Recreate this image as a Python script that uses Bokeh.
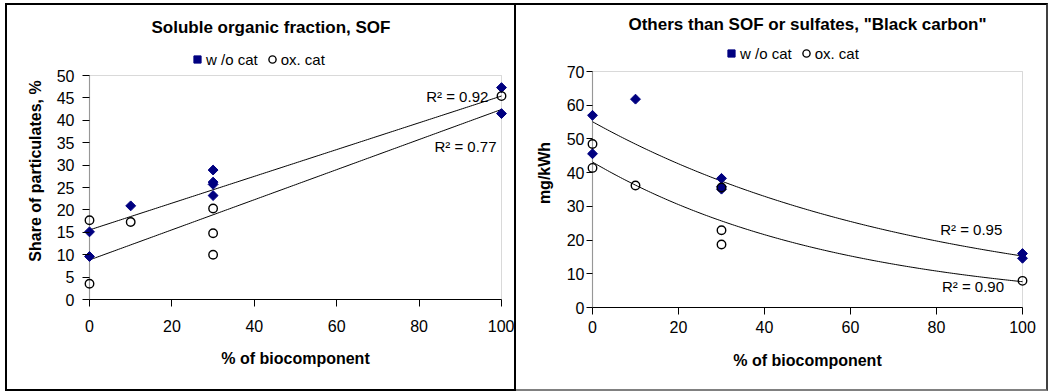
import numpy as np
from bokeh.plotting import figure
from bokeh.models import Legend, LegendItem, Label, Range1d, FixedTicker, BoxAnnotation, Spacer
from bokeh.layouts import row, column
from bokeh.embed import file_html
from bokeh.resources import INLINE

# ---------------- data ----------------
# Left chart: Soluble organic fraction (share of particulates, %)
sof_wo_x = [0, 0, 10, 30, 30, 30, 30, 100, 100]
sof_wo_y = [15.1, 9.6, 20.9, 28.9, 26.2, 25.7, 23.2, 47.3, 41.5]
sof_ox_x = [0, 0, 10, 30, 30, 30, 100]
sof_ox_y = [17.7, 3.5, 17.3, 20.3, 14.8, 10.0, 45.4]
sof_r2 = ["R² = 0.92", "R² = 0.77"]

# Right chart: Black carbon (mg/kWh)
bc_wo_x = [0, 0, 10, 30, 30, 30, 100, 100]
bc_wo_y = [57.0, 45.6, 61.8, 38.3, 35.8, 35.1, 16.0, 14.6]
bc_ox_x = [0, 0, 10, 30, 30, 30, 100]
bc_ox_y = [48.5, 41.4, 36.2, 35.6, 22.9, 18.7, 7.9]
bc_r2 = ["R² = 0.95", "R² = 0.90"]

x_ticks = [0, 20, 40, 60, 80, 100]
sof_y_ticks = [0, 5, 10, 15, 20, 25, 30, 35, 40, 45, 50]
bc_y_ticks = [0, 10, 20, 30, 40, 50, 60, 70]

series_names = ["w /o cat", "ox. cat"]
titles = ["Soluble organic fraction, SOF", 'Others than SOF or sulfates, "Black carbon"']
x_label = "% of biocomponent"
y_labels = ["Share of particulates, %", "mg/kWh"]

FONT = "Liberation Sans"
NAVY = "#000080"
PAD_PX = 6  # room so that edge markers are not clipped


def linear_fit(xs, ys, grid):
    k, b = np.polyfit(np.array(xs, float), np.array(ys, float), 1)
    return k * grid + b


def expo_fit(xs, ys, grid):
    k, b = np.polyfit(np.array(xs, float), np.log(np.array(ys, float)), 1)
    return np.exp(b) * np.exp(k * grid)


def make_fig(cfg):
    # frame is taller than the axis so that the legend sits inside it,
    # and slightly wider so that markers at 0 and 100 are drawn whole
    ext = cfg["frame_h"] / cfg["axis_h"]
    pad = 100.0 * PAD_PX / cfg["axis_w"]
    p = figure(width=cfg["w"], height=cfg["h"],
               min_border_left=cfg["bl"], min_border_right=cfg["br"],
               min_border_top=cfg["bt"], min_border_bottom=cfg["bb"],
               x_range=Range1d(-pad, 100 + pad),
               y_range=Range1d(0, cfg["ymax"] * ext),
               output_backend="svg", toolbar_location=None)
    p.grid.visible = False
    p.outline_line_color = None
    p.background_fill_color = "white"
    p.border_fill_color = "white"
    # plot-area border (grey) and the value axis line at x = 0 (black)
    p.add_layout(BoxAnnotation(left=0, right=100, bottom=0, top=cfg["ymax"],
                               fill_alpha=0, line_color="#808080", line_width=1,
                               level="underlay"))
    p.add_layout(BoxAnnotation(left=0, right=0, bottom=0, top=cfg["ymax"],
                               fill_alpha=0, line_color="black", line_width=1.2,
                               level="underlay"))

    p.title.text = cfg["title"]
    p.title.align = cfg["talign"]
    p.title.offset = cfg["toffset"]
    p.title.standoff = cfg["tstand"]
    p.title.text_font = FONT
    p.title.text_font_size = "17px"
    p.title.text_font_style = "bold"
    p.title.text_color = "black"

    for ax in (p.xaxis[0], p.yaxis[0]):
        ax.axis_line_color = "black"
        ax.axis_line_width = 1.2
        ax.major_tick_line_color = "black"
        ax.minor_tick_line_color = None
        ax.major_tick_in = 0
        ax.major_label_text_font = FONT
        ax.major_label_text_font_size = "16px"
        ax.major_label_text_color = "black"
        ax.axis_label_text_font = FONT
        ax.axis_label_text_font_size = "16px"
        ax.axis_label_text_font_style = "bold"
        ax.axis_label_text_color = "black"
    p.xaxis[0].ticker = FixedTicker(ticks=x_ticks)
    p.yaxis[0].ticker = FixedTicker(ticks=cfg["yticks"])
    p.xaxis[0].bounds = (0, 100)
    p.yaxis[0].bounds = (0, cfg["ymax"])
    p.yaxis[0].axis_line_color = None
    p.xaxis[0].major_tick_out = 7
    p.yaxis[0].major_tick_in = PAD_PX
    p.yaxis[0].major_tick_out = cfg["ytick_out"]
    p.xaxis[0].major_label_standoff = cfg["xls"]
    p.yaxis[0].major_label_standoff = cfg["yls"]
    p.xaxis[0].axis_label = x_label
    p.yaxis[0].axis_label = cfg["ylab"]
    p.xaxis[0].axis_label_standoff = cfg["xas"]
    p.yaxis[0].axis_label_standoff = cfg["yas"]
    return p


def add_series(p, wx, wy, ox, oy, fit, legend_loc):
    grid = np.linspace(0, 100, 201)
    p.line(grid, fit(wx, wy, grid), line_color="black", line_width=1)
    p.line(grid, fit(ox, oy, grid), line_color="black", line_width=1)
    r1 = p.scatter(wx, wy, marker="square", angle=np.pi / 4, size=7,
                   fill_color=NAVY, line_color=NAVY)
    r2 = p.scatter(ox, oy, marker="circle", size=8.5, fill_alpha=0,
                   line_color="black", line_width=1.4)
    leg = Legend(items=[LegendItem(label=series_names[0], renderers=[r1]),
                        LegendItem(label=series_names[1], renderers=[r2])],
                 orientation="horizontal", location=legend_loc,
                 border_line_color=None, background_fill_alpha=0,
                 label_text_font=FONT, label_text_font_size="15px",
                 label_text_color="black",
                 glyph_width=18, glyph_height=18, label_standoff=0,
                 spacing=5, padding=3, margin=0, label_height=18)
    p.add_layout(leg)


def r2_label(p, x, y, text):
    p.add_layout(Label(x=x, y=y, text=text, text_align="right",
                       text_baseline="middle", text_font=FONT,
                       text_font_size="15px", text_color="black"))


# ----- left figure -----
cfg1 = dict(title=titles[0], ylab=y_labels[0], ymax=50, yticks=sof_y_ticks,
            w=507, h=384, bl=76, br=7, bt=37, bb=90,
            frame_h=257, axis_h=224, axis_w=412,
            talign="left", toffset=68, tstand=12, ytick_out=1,
            xls=13, yls=8, xas=15, yas=10)
p1 = make_fig(cfg1)
add_series(p1, sof_wo_x, sof_wo_y, sof_ox_x, sof_ox_y, linear_fit, (105, 231))
r2_label(p1, 96.8, 45.4, sof_r2[0])
r2_label(p1, 98.8, 34.2, sof_r2[1])

# ----- right figure -----
cfg2 = dict(title=titles[1], ylab=y_labels[1], ymax=70, yticks=bc_y_ticks,
            w=530, h=384, bl=70, br=18, bt=33, bb=82,
            frame_h=269, axis_h=236, axis_w=430,
            talign="center", toffset=0, tstand=10, ytick_out=0,
            xls=6, yls=2, xas=16, yas=11)
p2 = make_fig(cfg2)
add_series(p2, bc_wo_x, bc_wo_y, bc_ox_x, bc_ox_y, expo_fit, (136, 245))
r2_label(p2, 95.3, 23.1, bc_r2[0])
r2_label(p2, 95.7, 6.1, bc_r2[1])

box1 = column(p1, styles={"border": "2px solid black"})
box2 = column(p2, styles={"border-top": "2px solid black",
                          "border-right": "2px solid #404040",
                          "border-bottom": "2px solid #808080"})

layout = column(Spacer(height=3, width=10),
                row(Spacer(width=5, height=10), box1, box2, spacing=0),
                spacing=0)
open("out.html", "w").write(file_html(layout, INLINE))
